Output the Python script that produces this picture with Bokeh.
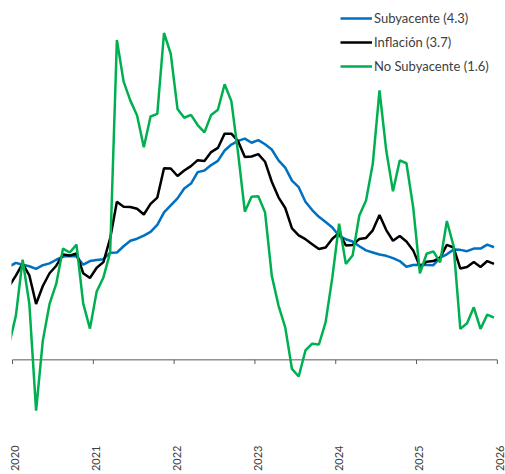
import numpy as np
from bokeh.plotting import figure
from bokeh.models import Range1d, FixedTicker, LinearAxis, Legend, LegendItem
from bokeh.embed import file_html
from bokeh.resources import INLINE

years = [2020, 2021, 2022, 2023, 2024, 2025, 2026]
tick_labels = ["2020", "2021", "2022", "2023", "2024", "2025", "2026"]

months = ["2019-12"] + [f"{y}-{m:02d}" for y in range(2020, 2026) for m in range(1, 13)]

subyacente = [3.59,
    3.73, 3.66, 3.60, 3.50, 3.64, 3.71, 3.85, 3.97, 3.99, 3.98, 3.66, 3.80,
    3.84, 3.87, 4.12, 4.13, 4.37, 4.58, 4.66, 4.78, 4.92, 5.19, 5.67, 5.94,
    6.21, 6.59, 6.78, 7.22, 7.28, 7.49, 7.65, 8.05, 8.28, 8.42, 8.51, 8.35,
    8.45, 8.29, 8.09, 7.67, 7.39, 6.89, 6.64, 6.08, 5.76, 5.50, 5.30, 5.09,
    4.76, 4.64, 4.55, 4.37, 4.21, 4.13, 4.05, 4.00, 3.91, 3.80, 3.58, 3.65,
    3.66, 3.65, 3.64, 3.93, 4.06, 4.24, 4.23, 4.18, 4.28, 4.28, 4.43, 4.33]

inflacion = [2.83,
    3.24, 3.70, 3.25, 2.15, 2.84, 3.33, 3.62, 4.05, 4.01, 4.09, 3.33, 3.15,
    3.54, 3.76, 4.67, 6.08, 5.89, 5.88, 5.81, 5.59, 6.00, 6.24, 7.37, 7.36,
    7.07, 7.28, 7.45, 7.68, 7.65, 7.99, 8.15, 8.70, 8.70, 8.41, 7.80, 7.82,
    7.91, 7.62, 6.85, 6.25, 5.84, 5.06, 4.79, 4.64, 4.45, 4.26, 4.32, 4.66,
    4.88, 4.40, 4.42, 4.65, 4.69, 4.98, 5.57, 4.99, 4.58, 4.76, 4.55, 4.21,
    3.59, 3.77, 3.80, 3.93, 4.42, 4.32, 3.51, 3.57, 3.76, 3.57, 3.80, 3.69]

no_subyacente = [0.59,
    1.70, 3.85, 2.16, -1.95, 0.74, 2.15, 2.93, 4.28, 4.13, 4.43, 2.16, 1.20,
    2.63, 3.17, 4.13, 12.30, 10.70, 9.97, 9.40, 8.18, 9.36, 9.46, 12.57, 11.77,
    9.65, 9.31, 9.42, 9.03, 8.75, 9.42, 9.62, 10.60, 9.95, 7.95, 5.70, 6.27,
    6.29, 5.68, 3.24, 2.09, 1.25, -0.35, -0.64, 0.36, 0.62, 0.59, 1.45, 3.18,
    5.24, 3.69, 4.01, 5.55, 6.13, 7.54, 10.36, 8.05, 6.48, 7.67, 7.56, 5.87,
    3.33, 4.08, 4.17, 3.75, 5.34, 4.38, 1.19, 1.41, 2.02, 1.19, 1.74, 1.62]


def month_pos(s):
    y, m = map(int, s.split("-"))
    return (y - 2020) * 12 + (m - 1) + 0.5


x = [month_pos(s) for s in months]
tick_pos = [(y - 2020) * 12 for y in years]

FONT = "Lato"
TXT = "#404040"
AXC = "#595959"

FW, FH = 494, 441
x0, x1 = -0.15, 73.21
p = figure(frame_width=FW, frame_height=FH, output_backend="svg", toolbar_location=None,
           x_range=Range1d(x0, x1), y_range=Range1d(-3.14, 13.82),
           x_axis_location=None, y_axis_location=None,
           min_border_left=11, min_border_right=0, min_border_top=0, min_border_bottom=0)
p.outline_line_color = None
p.grid.visible = False
p.background_fill_color = "white"

# label axis, shifted so labels sit just right of the tick marks
off = 0.42
p.extra_x_ranges = {"lab": Range1d(x0 - off, x1 - off)}
ax = LinearAxis(x_range_name="lab", ticker=FixedTicker(ticks=tick_pos),
                major_label_overrides={t: l for t, l in zip(tick_pos, tick_labels)},
                major_label_orientation=np.pi / 2,
                axis_line_color=None, major_tick_line_color=None, minor_tick_line_color=None,
                major_tick_out=0, major_tick_in=0, minor_tick_out=0, minor_tick_in=0,
                major_label_standoff=4, major_label_text_font=FONT,
                major_label_text_font_size="11px", major_label_text_color=TXT)
p.add_layout(ax, "below")

# zero line with year tick marks
p.segment(x0=[tick_pos[0]], y0=[0], x1=[tick_pos[-1]], y1=[0], line_color=AXC, line_width=1)
p.segment(x0=tick_pos, y0=[0] * len(tick_pos), x1=tick_pos, y1=[-0.16] * len(tick_pos),
          line_color=AXC, line_width=1)

r1 = p.line(x, subyacente, line_color="#0070C0", line_width=2.5)
r2 = p.line(x, inflacion, line_color="#000000", line_width=2.5)
r3 = p.line(x, no_subyacente, line_color="#00B050", line_width=2.5)

legend = Legend(items=[
    LegendItem(label=f"Subyacente ({subyacente[-1]:.1f})", renderers=[r1]),
    LegendItem(label=f"Inflación ({inflacion[-1]:.1f})", renderers=[r2]),
    LegendItem(label=f"No Subyacente ({no_subyacente[-1]:.1f})", renderers=[r3]),
], location=(329, FH - 76))
legend.background_fill_alpha = 0
legend.border_line_alpha = 0
legend.padding = 0
legend.margin = 0
legend.spacing = 4
legend.glyph_width = 32
legend.glyph_height = 20
legend.label_height = 20
legend.label_standoff = 2
legend.label_text_font = FONT
legend.label_text_font_size = "13px"
legend.label_text_color = TXT
p.add_layout(legend)

open("out.html", "w").write(file_html(p, INLINE))
